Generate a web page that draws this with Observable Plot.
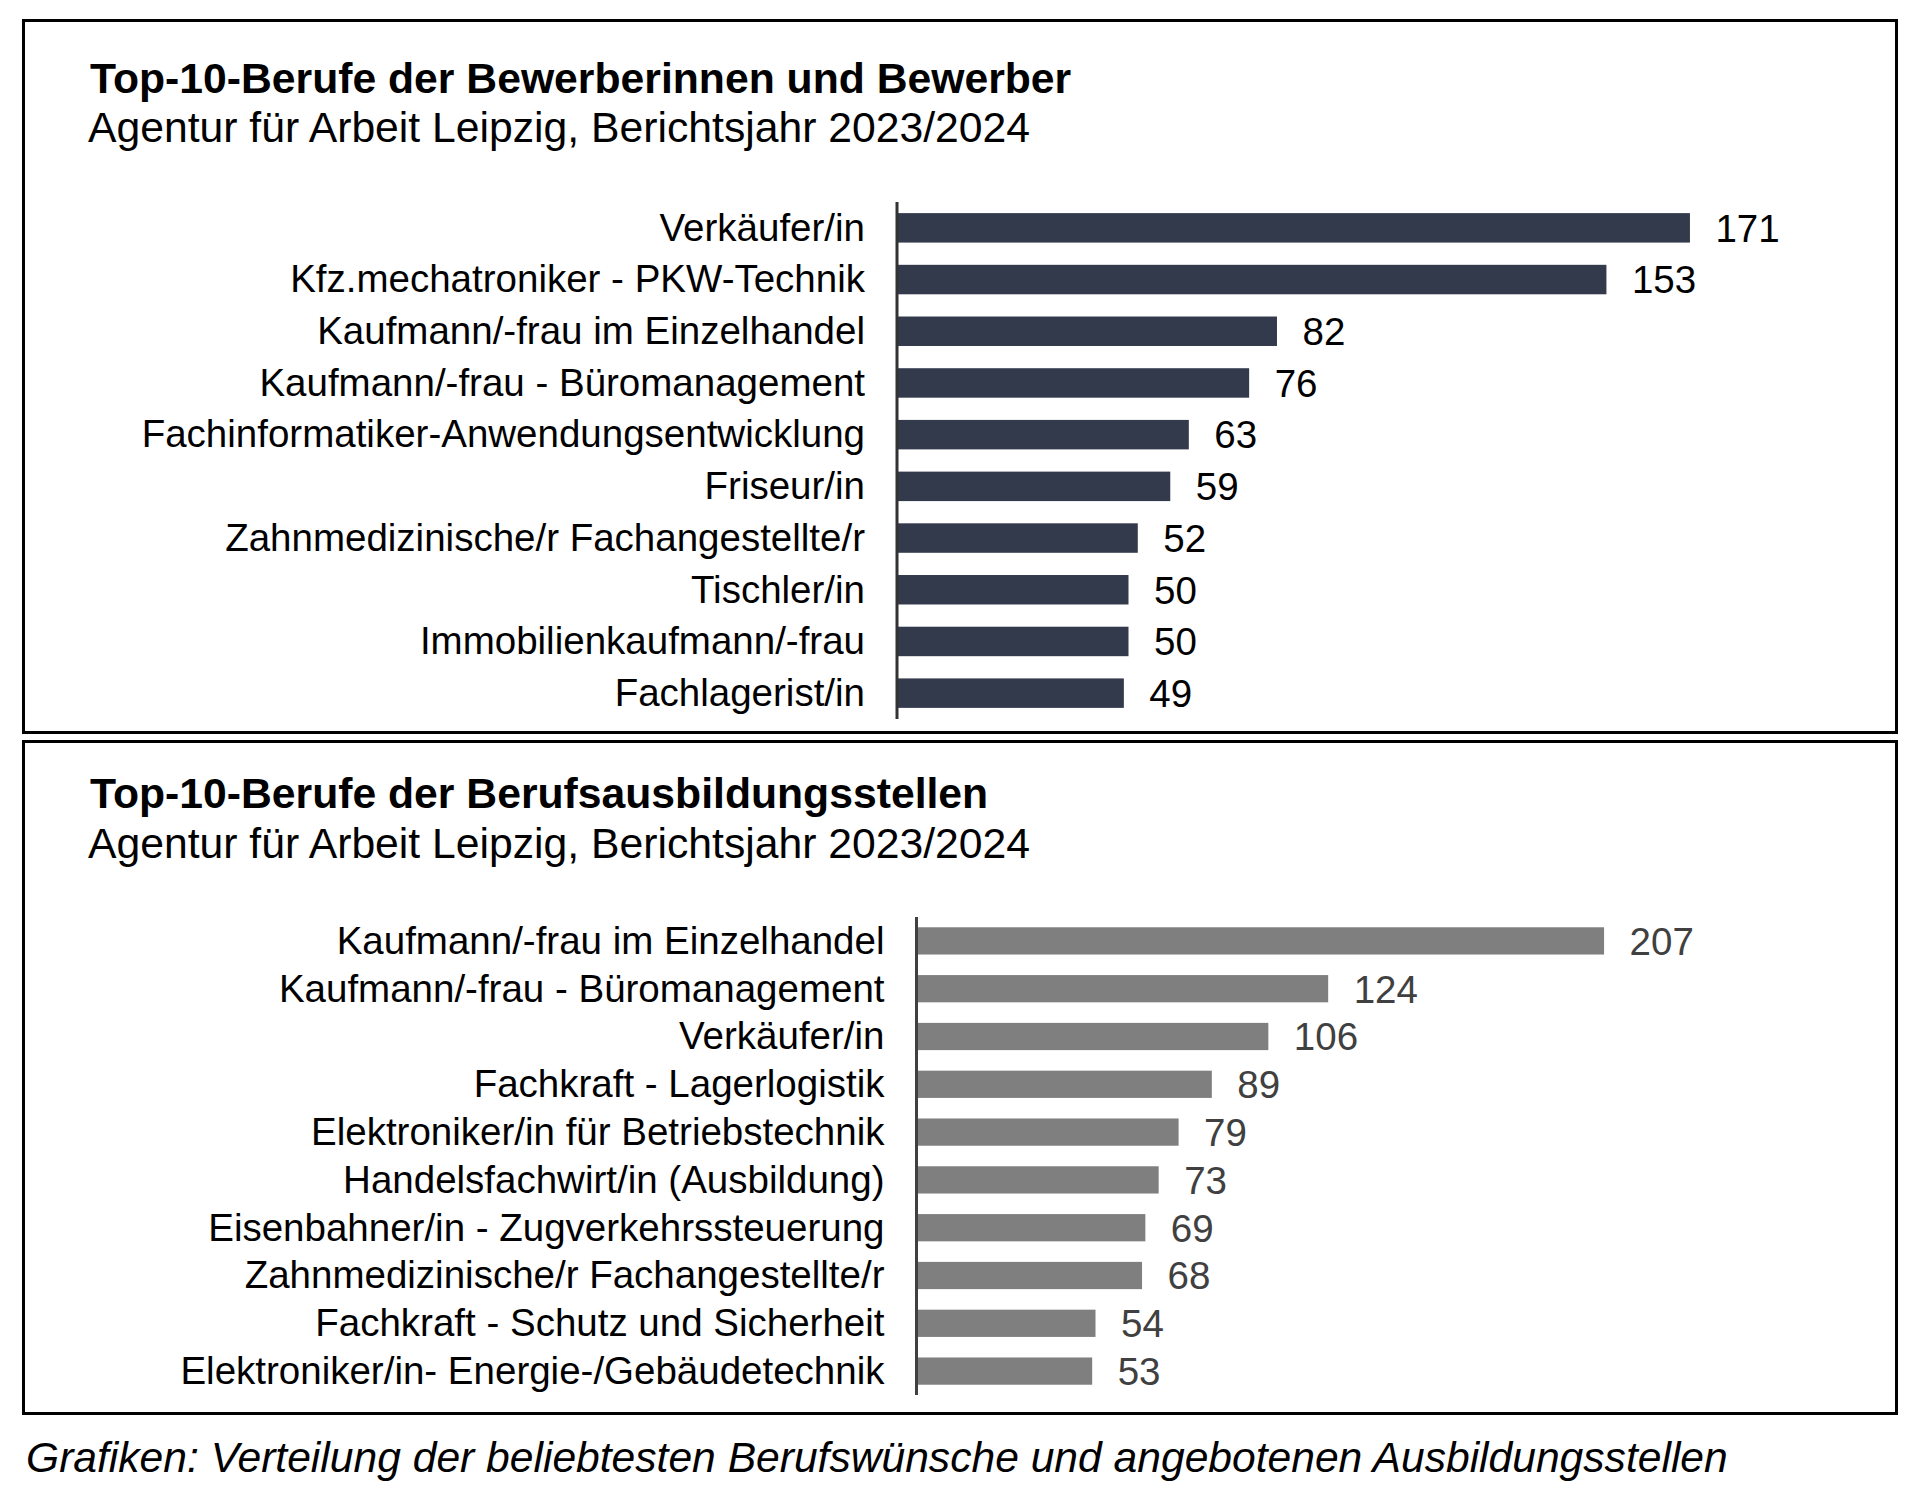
<!DOCTYPE html>
<html>
<head>
<meta charset="utf-8">
<script src="https://cdn.jsdelivr.net/npm/d3@7"></script>
<script src="https://cdn.jsdelivr.net/npm/@observablehq/plot@0.6"></script>
<style>
html, body { margin: 0; padding: 0; background: #fff; }
body { width: 1920px; height: 1492px; position: relative; overflow: hidden; font-family: "Liberation Sans", Arial, sans-serif; color: #000; }
.box { position: absolute; left: 22px; width: 1876px; border: 3px solid #000; box-sizing: border-box; z-index: 2; pointer-events: none; }
.title { position: absolute; left: 90px; font-weight: bold; font-size: 42.7px; line-height: 1; white-space: nowrap; }
.sub { position: absolute; left: 88px; font-size: 42.7px; line-height: 1; white-space: nowrap; }
.caption { position: absolute; left: 26px; font-style: italic; font-size: 42.6px; line-height: 1; white-space: nowrap; }
.chart { position: absolute; left: 0; }
</style>
</head>
<body>
<div class="box" style="top:19px;height:715px;"></div>
<div class="box" style="top:740px;height:675px;"></div>
<div class="title" style="top:57px;">Top-10-Berufe der Bewerberinnen und Bewerber</div>
<div class="sub" style="top:106px;">Agentur für Arbeit Leipzig, Berichtsjahr 2023/2024</div>
<div class="chart" id="c1" style="top:170px;"></div>
<div class="title" style="top:772px;">Top-10-Berufe der Berufsausbildungsstellen</div>
<div class="sub" style="top:822px;">Agentur für Arbeit Leipzig, Berichtsjahr 2023/2024</div>
<div class="chart" id="c2" style="top:900px;"></div>
<div class="caption" style="top:1436px;">Grafiken: Verteilung der beliebtesten Berufswünsche und angebotenen Ausbildungsstellen</div>
<script>
// Chart 1: Bewerberinnen und Bewerber
const berufe1 = [
  "Verkäufer/in",
  "Kfz.mechatroniker - PKW-Technik",
  "Kaufmann/-frau im Einzelhandel",
  "Kaufmann/-frau - Büromanagement",
  "Fachinformatiker-Anwendungsentwicklung",
  "Friseur/in",
  "Zahnmedizinische/r Fachangestellte/r",
  "Tischler/in",
  "Immobilienkaufmann/-frau",
  "Fachlagerist/in"
];
const werte1 = [171, 153, 82, 76, 63, 59, 52, 50, 50, 49];

// Chart 2: Berufsausbildungsstellen
const berufe2 = [
  "Kaufmann/-frau im Einzelhandel",
  "Kaufmann/-frau - Büromanagement",
  "Verkäufer/in",
  "Fachkraft - Lagerlogistik",
  "Elektroniker/in für Betriebstechnik",
  "Handelsfachwirt/in (Ausbildung)",
  "Eisenbahner/in - Zugverkehrssteuerung",
  "Zahnmedizinische/r Fachangestellte/r",
  "Fachkraft - Schutz und Sicherheit",
  "Elektroniker/in- Energie-/Gebäudetechnik"
];
const werte2 = [207, 124, 106, 89, 79, 73, 69, 68, 54, 53];

const font = '"Liberation Sans", Arial, sans-serif';

function chart(cats, vals, o) {
  const data = cats.map((c, i) => ({beruf: c, wert: vals[i]}));
  return Plot.plot({
    width: 1920,
    height: o.height,
    marginLeft: o.axisX,
    marginRight: 1920 - o.axisX - o.xMax * o.pxPerUnit,
    marginTop: o.marginTop,
    marginBottom: o.marginBottom,
    style: {background: "transparent", fontFamily: font, fontSize: "38.5px", color: "#000", overflow: "visible"},
    x: {domain: [0, o.xMax], axis: null},
    y: {domain: cats, paddingInner: 0.43, paddingOuter: 0.215, round: false, label: null, tickSize: 0, tickPadding: 32},
    marks: [
      Plot.barX(data, {x: "wert", y: "beruf", fill: o.fill}),
      Plot.ruleX([0], {stroke: o.axisColor, strokeWidth: 3}),
      Plot.text(data, {x: "wert", y: "beruf", text: d => String(d.wert), textAnchor: "start", dx: 25, dy: 1, fill: o.valueColor, fontSize: 38.5})
    ]
  });
}

document.getElementById("c1").appendChild(chart(berufe1, werte1, {
  height: 570, axisX: 896.5, xMax: 200, pxPerUnit: 4.64, marginTop: 32, marginBottom: 21,
  fill: "#333a4b", axisColor: "#333333", valueColor: "#000000"
}));
document.getElementById("c2").appendChild(chart(berufe2, werte2, {
  height: 510, axisX: 916, xMax: 250, pxPerUnit: 3.324, marginTop: 17, marginBottom: 15,
  fill: "#7f7f7f", axisColor: "#404040", valueColor: "#404040"
}));
</script>
</body>
</html>
